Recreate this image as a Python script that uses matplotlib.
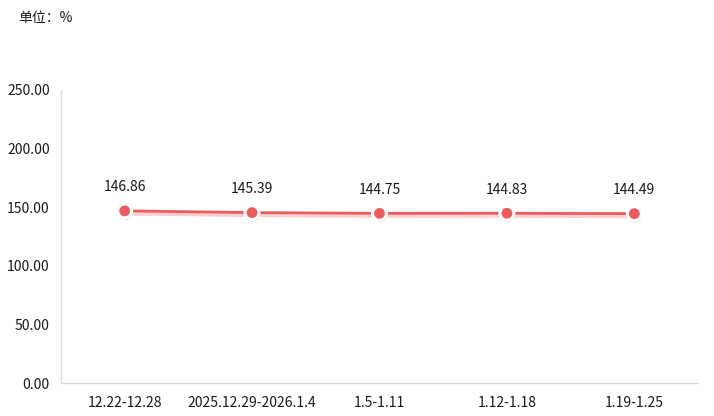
import matplotlib.pyplot as plt
import matplotlib.patheffects as pe

plt.rcParams['font.family'] = ['Microsoft YaHei', 'Noto Sans CJK SC', 'DejaVu Sans']

# data
weeks = ["12.22-12.28", "2025.12.29-2026.1.4", "1.5-1.11", "1.12-1.18", "1.19-1.25"]
values = [146.86, 145.39, 144.75, 144.83, 144.49]
yticks = [0, 50, 100, 150, 200, 250]

LINE_COLOR = "#ee5a5d"
AXIS_COLOR = "#dcdcdc"

fig = plt.figure(figsize=(7.14, 4.16), dpi=100)
ax = fig.add_axes([0.0854, 0.0793, 0.8922, 0.7044])

x = list(range(len(weeks)))
ax.plot(x, values, color=LINE_COLOR, linewidth=2, zorder=2,
        path_effects=[pe.SimpleLineShadow(offset=(0, -1.5), shadow_color="#f4a0a0", alpha=0.5, linewidth=3.5),
                      pe.Normal()])
ax.plot(x, values, linestyle="none", marker="o", markersize=10,
        markerfacecolor=LINE_COLOR, markeredgecolor="white", markeredgewidth=2.2,
        zorder=3, path_effects=[pe.SimplePatchShadow(offset=(0.5, -1.5), shadow_rgbFace="#f2a0a0", alpha=0.5),
                                pe.Normal()])

for xi, v in zip(x, values):
    ax.annotate(f"{v:.2f}", (xi, v), xytext=(0, 12), textcoords="offset points",
                ha="center", va="bottom", fontsize=10, color="#1a1a1a")

ax.set_xlim(-0.5, len(weeks) - 0.5)
ax.set_ylim(0, 250)
ax.set_yticks(yticks)
ax.set_yticklabels([f"{t:.2f}" for t in yticks])
ax.set_xticks(x)
ax.set_xticklabels(weeks)
ax.tick_params(axis="both", length=0, labelsize=10, colors="#1a1a1a")
ax.tick_params(axis="x", pad=9)
ax.tick_params(axis="y", pad=8)

for s in ["top", "right"]:
    ax.spines[s].set_visible(False)
ax.spines["left"].set_color(AXIS_COLOR)
ax.spines["bottom"].set_color(AXIS_COLOR)
ax.spines["left"].set_linewidth(1)
ax.spines["bottom"].set_linewidth(1)

fig.text(18 / 714, 1 - 18 / 416, "单位：%", fontsize=10, color="#1a1a1a", va="center", ha="left")

fig.savefig("out.png", dpi=100)
